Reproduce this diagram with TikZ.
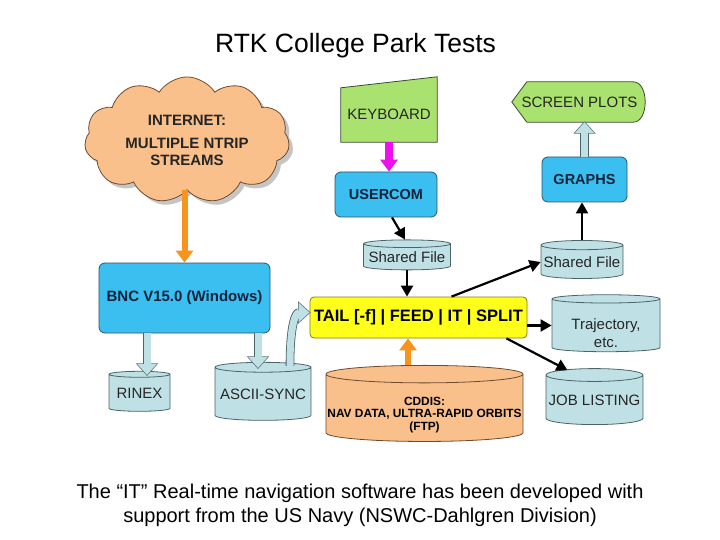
\documentclass[tikz,border=0pt]{standalone}
\usepackage{fontspec}
\setmainfont{Liberation Sans}
\usetikzlibrary{shapes.geometric,shapes.symbols,arrows.meta,shadows,backgrounds}

\definecolor{boxblue}{HTML}{3BBEF0}
\definecolor{boxedge}{HTML}{2B5470}
\definecolor{navytext}{HTML}{14233A}
\definecolor{keygreen}{HTML}{A9E26E}
\definecolor{greenedge}{HTML}{3A4A30}
\definecolor{drumfill}{HTML}{BFE1E5}
\definecolor{drumedge}{HTML}{4D6466}
\definecolor{cloudorange}{HTML}{F9C08C}
\definecolor{orangeedge}{HTML}{6E4B2C}
\definecolor{tailyellow}{HTML}{FFFF1A}
\definecolor{yellowedge}{HTML}{7D7A20}
\definecolor{pipeorange}{HTML}{F7941E}
\definecolor{keymagenta}{HTML}{EE11EE}

\begin{document}
\begin{tikzpicture}[x=1pt,y=-1pt]
		% Styles for boxes, drums and arrows
		\tikzset{
			prog/.style={rectangle, rounded corners=6pt, draw=boxedge, line width=0.8pt, fill=boxblue, text=navytext, font=\bfseries\fontsize{14.5}{17}\selectfont},
			drum/.style={cylinder, shape border rotate=90, aspect=0.12, draw=drumedge, line width=0.8pt, fill=drumfill, text=black!85, font=\fontsize{15}{17}\selectfont, align=center, inner sep=0pt},
			device/.style={draw=greenedge, line width=0.8pt, fill=keygreen},
			flow/.style={line width=2.2pt, -{Triangle[length=11pt,width=12pt]}},
			fatflow/.style={line width=7pt, draw=drumfill, -{Triangle[length=11pt,width=19pt]}, preaction={draw=drumedge, line width=8.6pt, -{Triangle[length=12.5pt,width=21.5pt]}, shorten >=-1pt}},
			feed/.style={line width=6pt, draw=#1, -{Triangle[length=12pt,width=17pt]}}
		}
		\useasboundingbox (0,0) rectangle (720,540);
		
		% Title
		\node[font=\fontsize{26.5}{30}\selectfont, anchor=base] (title) at (355.5,53) {RTK College Park Tests};
		
		% Internet cloud and BNC
		\node[cloud, cloud puffs=11, cloud puff arc=115, aspect=1.8, draw=orangeedge, fill=cloudorange, line width=0.8pt,
			drop shadow={shadow xshift=4pt, shadow yshift=-4pt, fill=black!45},
			minimum width=205pt, minimum height=116pt, align=center, text=black!85,
			font=\bfseries\fontsize{15}{17}\selectfont] (internet) at (187,140) {INTERNET:\\[6pt]MULTIPLE NTRIP\\STREAMS};
		\node[prog, minimum width=171pt, minimum height=70pt, font=\bfseries\fontsize{15}{17}\selectfont] (bnc) at (184.5,298) {BNC V15.0 (Windows)};
		\node[drum, aspect=0.13, minimum width=61pt, minimum height=40pt] (rinex) at (139.5,393) {RINEX};
		\node[drum, aspect=0.115, minimum width=96pt, minimum height=58pt] (ascii) at (263,394) {ASCII-SYNC};
		
		% Keyboard, usercom and shared file
		\node[minimum width=96pt, minimum height=56pt, text=black!85, font=\fontsize{15}{17}\selectfont] (keyboard) at (389,114) {KEYBOARD};
		\node[prog, minimum width=102pt, minimum height=45pt] (usercom) at (386,194.5) {USERCOM};
		\node[drum, aspect=0.1, minimum width=87pt, minimum height=30pt] (shared1) at (407,257) {Shared File};
		
		% The pipe and its inputs / outputs
		\node[rectangle, rounded corners=4pt, draw=yellowedge, fill=tailyellow, line width=0.8pt, minimum width=217pt, minimum height=41pt,
			font=\bfseries\fontsize{16.5}{18}\selectfont] (tail) at (418.5,317.5) {TAIL [-f] | FEED | IT | SPLIT};
		\node[drum, aspect=0.09, draw=orangeedge, fill=cloudorange, text=black, minimum width=197pt, minimum height=75pt,
			font=\bfseries\fontsize{11.9}{12.5}\selectfont] (cddis) at (424.5,408) {\rule{0pt}{22pt}CDDIS:\\NAV DATA, ULTRA-RAPID ORBITS\\(FTP)};
		
		% Right column
		\node[minimum width=135pt, minimum height=40pt, text=black!85, font=\fontsize{15}{17}\selectfont] (screen) at (579.5,102) {SCREEN PLOTS};
		\node[prog, minimum width=85pt, minimum height=45pt] (graphs) at (584.5,179.5) {GRAPHS};
		\node[drum, minimum width=82pt, minimum height=38pt] (shared2) at (582,262) {Shared File};
		\node[drum, minimum width=108pt, minimum height=55pt, font=\fontsize{15}{18}\selectfont] (traj) at (606,325.5) {\rule{0pt}{26pt}Trajectory,\\etc.};
		\node[drum, aspect=0.14, minimum width=97pt, minimum height=56pt] (job) at (594.5,400) {JOB LISTING};
		
		% Caption
		\node[font=\fontsize{20}{24}\selectfont, align=center] (caption) at (360,505) {The “IT” Real-time navigation software has been developed with\\support from the US Navy (NSWC-Dahlgren Division)};
		
		% Orange and magenta feeds
		\draw[feed=pipeorange] (bnc.north |- internet.south) -- (bnc.north);
		\draw[feed=keymagenta, line width=8pt] (keyboard.south) -- (keyboard.south |- usercom.north);
		\draw[feed=pipeorange] ([xshift=-16.5pt]cddis.north) -- ([xshift=-16.5pt]cddis.north |- tail.south);
		
		% Light blue block arrows
		\draw[fatflow] ([xshift=-37.5pt]bnc.south) -- ([xshift=-37.5pt,yshift=-4pt]bnc.south |- rinex.north);
		\draw[fatflow] ([xshift=73.5pt]bnc.south) -- ([xshift=73.5pt,yshift=-6pt]bnc.south |- ascii.north);
		\draw[fatflow] ([xshift=27pt,yshift=-4pt]ascii.north) .. controls +(0,-42) and +(-14,0) .. ([yshift=5pt]tail.west);
		\draw[fatflow] (graphs.north) -- (graphs.north |- screen.south);
		
		% Black arrows
		\draw[flow] ([xshift=6pt]usercom.south) -- ([xshift=-2pt]shared1.north);
		\draw[flow] (shared1.south) -- (shared1.south |- tail.north);
		\draw[flow] ([xshift=33pt]tail.north) -- (shared2.west);
		\draw[flow] (tail.east |- traj.west) -- (traj.west);
		\draw[flow] ([xshift=88pt]tail.south) -- ([xshift=-27pt,yshift=-2pt]job.north);
		\draw[flow] (shared2.north) -- (shared2.north |- graphs.south);
		
		% Keyboard and screen outlines, behind their text
		\begin{scope}[on background layer]
			\fill[white] (0,0) rectangle (720,540);
			\draw[device] ([yshift=-2pt]keyboard.north west) -- ([yshift=9pt]keyboard.north east) -- (keyboard.south east) -- (keyboard.south west) -- cycle;
			\draw[device] (screen.west) -- ([xshift=15pt]screen.north west) -- ([xshift=-14pt]screen.north east)
				.. controls ([xshift=2pt]screen.north east) and ([xshift=2pt]screen.south east) .. ([xshift=-14pt]screen.south east)
				-- ([xshift=15pt]screen.south west) -- cycle;
		\end{scope}
	\end{tikzpicture}
\end{document}
